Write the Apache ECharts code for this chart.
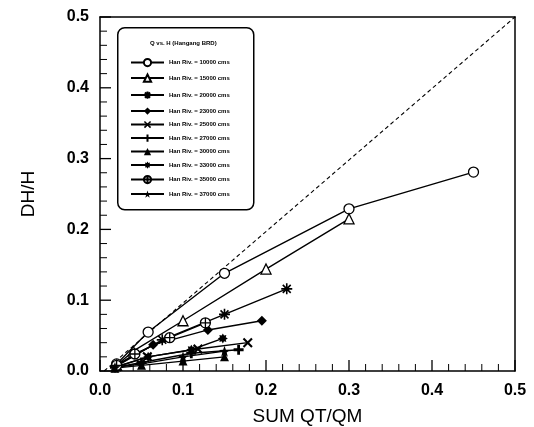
<!DOCTYPE html>
<html><head><meta charset="utf-8">
<script src="https://cdn.jsdelivr.net/npm/echarts@6/dist/echarts.min.js"></script>
<style>html,body{margin:0;padding:0;background:#fff}#c{width:534px;height:427px}</style>
</head><body><div id="c"></div>
<script>
const seriesNames = ['Han Riv. = 10000 cms','Han Riv. = 15000 cms','Han Riv. = 20000 cms','Han Riv. = 23000 cms','Han Riv. = 25000 cms','Han Riv. = 27000 cms','Han Riv. = 30000 cms','Han Riv. = 33000 cms','Han Riv. = 35000 cms','Han Riv. = 37000 cms'];
const q10000 = [[0.02,0.01],[0.058,0.055],[0.15,0.138],[0.30,0.229],[0.45,0.281]];
const q15000 = [[0.02,0.008],[0.04,0.028],[0.10,0.071],[0.20,0.144],[0.30,0.215]];
const q20000 = [[0.02,0.008],[0.075,0.044],[0.15,0.080],[0.225,0.116]];
const q23000 = [[0.02,0.007],[0.064,0.037],[0.13,0.058],[0.195,0.071]];
const q25000 = [[0.02,0.006],[0.057,0.020],[0.118,0.031],[0.178,0.040]];
const q27000 = [[0.018,0.005],[0.05,0.012],[0.11,0.025],[0.167,0.030]];
const q30000 = [[0.018,0.004],[0.05,0.008],[0.10,0.014],[0.15,0.020]];
const q33000 = [[0.02,0.006],[0.058,0.020],[0.11,0.030],[0.148,0.046]];
const q35000 = [[0.02,0.008],[0.042,0.024],[0.084,0.047],[0.127,0.068]];
const q37000 = [[0.018,0.005],[0.05,0.010],[0.10,0.020],[0.15,0.028]];
const diagonal = [[0.005,0.0],[0.5,0.5]];
const xTicks = [0,0.1,0.2,0.3,0.4,0.5];
const yTicks = [0,0.1,0.2,0.3,0.4,0.5];
const xMinor = [0.02,0.04,0.06,0.08,0.12,0.14,0.16,0.18,0.22,0.24,0.26,0.28,0.32,0.34,0.36,0.38,0.42,0.44,0.46,0.48];
const yMinor = [0.02,0.04,0.06,0.08,0.12,0.14,0.16,0.18,0.22,0.24,0.26,0.28,0.32,0.34,0.36,0.38,0.42,0.44,0.46,0.48];

const dataList = [q10000,q15000,q20000,q23000,q25000,q27000,q30000,q33000,q35000,q37000];
const SYM = {
  circle: {symbol:'circle', size:10, fill:'#fff', bw:1.3},
  tri: {symbol:'path://M0,-6L5.5,4L-5.5,4Z', size:10, fill:'#fff', bw:1.3},
  aster: {symbol:'path://M0,-5L0,5M-5,0L5,0M-3.6,-3.6L3.6,3.6M-3.6,3.6L3.6,-3.6', size:11, fill:'none', bw:1.6},
  diamond: {symbol:'diamond', size:10, fill:'#000', bw:0},
  xmark: {symbol:'path://M-5,-3.5L-3.5,-5L0,-1.5L3.5,-5L5,-3.5L1.5,0L5,3.5L3.5,5L0,1.5L-3.5,5L-5,3.5L-1.5,0Z', size:10, fill:'#000', bw:0},
  plus: {symbol:'path://M-1.4,-5L1.4,-5L1.4,-1.4L5,-1.4L5,1.4L1.4,1.4L1.4,5L-1.4,5L-1.4,1.4L-5,1.4L-5,-1.4L-1.4,-1.4Z', size:10, fill:'#000', bw:0},
  ftri: {symbol:'triangle', size:9, fill:'#000', bw:0},
  star8: {symbol:'path://M0,-5L1.2,-2.9L3.5,-3.5L2.9,-1.2L5,0L2.9,1.2L3.5,3.5L1.2,2.9L0,5L-1.2,2.9L-3.5,3.5L-2.9,1.2L-5,0L-2.9,-1.2L-3.5,-3.5L-1.2,-2.9Z', size:10, fill:'#000', bw:0},
  ccircle: {symbol:'path://M-5,0A5,5 0 1,1 5,0A5,5 0 1,1 -5,0ZM-5,0L5,0M0,-5L0,5', size:10, fill:'#fff', bw:1.3},
  star5: {symbol:'path://M0,-5L1.2,-1.6L4.8,-1.5L1.9,0.6L2.9,4L0,2L-2.9,4L-1.9,0.6L-4.8,-1.5L-1.2,-1.6Z', size:11, fill:'#000', bw:0}
};
const symOrder = ['circle','tri','aster','diamond','xmark','plus','ftri','star8','ccircle','star5'];

const series = dataList.map((d,i)=>{
  const s = SYM[symOrder[i]];
  return {
    name: seriesNames[i], type:'line', data:d, symbol:s.symbol, symbolSize:s.size,
    showAllSymbol:true, z:3,
    lineStyle:{color:'#000', width:1.4},
    itemStyle:{color:s.fill, borderColor:'#000', borderWidth:s.bw}
  };
});
series.push({name:'diag', type:'line', data:diagonal, symbol:'none', z:2,
  lineStyle:{color:'#000', width:1.1, type:[4,3]}});

// tick marks drawn through the axis scales (custom series)
function tickSeries(values, dir, len, w) {
  return {
    type:'custom', silent:true, z:1, clip:false,
    data: values.map(v => dir === 'x' ? [v, 0] : [0, v]),
    renderItem: (params, api) => {
      const p = api.coord([api.value(0), api.value(1)]);
      const shape = dir === 'x'
        ? {x1:p[0], y1:p[1], x2:p[0], y2:p[1]-len}
        : {x1:p[0], y1:p[1], x2:p[0]+len, y2:p[1]};
      return {type:'line', shape:shape, style:{stroke:'#000', lineWidth:w}};
    }
  };
}
series.push(tickSeries(xTicks, 'x', 11, 1.3));
series.push(tickSeries(xMinor, 'x', 7, 1));
series.push(tickSeries(yTicks, 'y', 11, 1.3));
series.push(tickSeries(yMinor, 'y', 7, 1));

const font = 'Liberation Sans, Arial, sans-serif';
const tickFmt = list => v => {const t=list.find(k=>Math.abs(k-v)<1e-9);return t===undefined?'':t.toFixed(1);};
const chart = echarts.init(document.getElementById('c'), null, {renderer:'canvas'});
chart.setOption({
  animation:false,
  tooltip:{show:false},
  grid:{left:100, right:19, top:17, bottom:56, outerBoundsMode:'none'},
  xAxis:[{type:'value', min:0, max:0.5, interval:0.1, position:'bottom',
    name:'SUM QT/QM', nameLocation:'middle', nameGap:36,
    nameTextStyle:{fontFamily:font, fontSize:19, color:'#000'},
    axisLine:{show:true, onZero:false, lineStyle:{color:'#000', width:1.5}},
    axisTick:{show:false}, minorTick:{show:false},
    splitLine:{show:false},
    axisLabel:{fontFamily:font, fontSize:16, fontWeight:'bold', color:'#000', margin:12, formatter:tickFmt(xTicks)}
  },{type:'value', min:0, max:0.5, position:'top',
    axisLine:{show:true, onZero:false, lineStyle:{color:'#000', width:1.5}},
    axisTick:{show:false}, axisLabel:{show:false}, splitLine:{show:false}}],
  yAxis:[{type:'value', min:0, max:0.5, interval:0.1, position:'left',
    name:'DH/H', nameLocation:'middle', nameGap:62,
    nameTextStyle:{fontFamily:font, fontSize:19, color:'#000'},
    axisLine:{show:true, onZero:false, lineStyle:{color:'#000', width:1.5}},
    axisTick:{show:false}, minorTick:{show:false},
    splitLine:{show:false},
    axisLabel:{fontFamily:font, fontSize:16, fontWeight:'bold', color:'#000', margin:11, formatter:tickFmt(yTicks)}
  },{type:'value', min:0, max:0.5, position:'right',
    axisLine:{show:true, onZero:false, lineStyle:{color:'#000', width:1.5}},
    axisTick:{show:false}, axisLabel:{show:false}, splitLine:{show:false}}],
  legend:{
    data:seriesNames, orient:'vertical', left:125, top:53, itemWidth:33, itemHeight:9, itemGap:6.3,
    textStyle:{fontFamily:font, fontSize:6, fontWeight:'bold', color:'#000'},
    selectedMode:false
  },
  graphic:[
    {type:'rect', left:117, top:27, shape:{width:136, height:182, r:7}, z:1,
      style:{fill:'#fff', stroke:'#000', lineWidth:1.5}},
    {type:'text', left:150, top:40, z:5,
      style:{text:'Q vs. H (Hangang BRD)', font:'bold 6px Liberation Sans, Arial', fill:'#000'}}
  ],
  series:series
});
</script></body></html>
